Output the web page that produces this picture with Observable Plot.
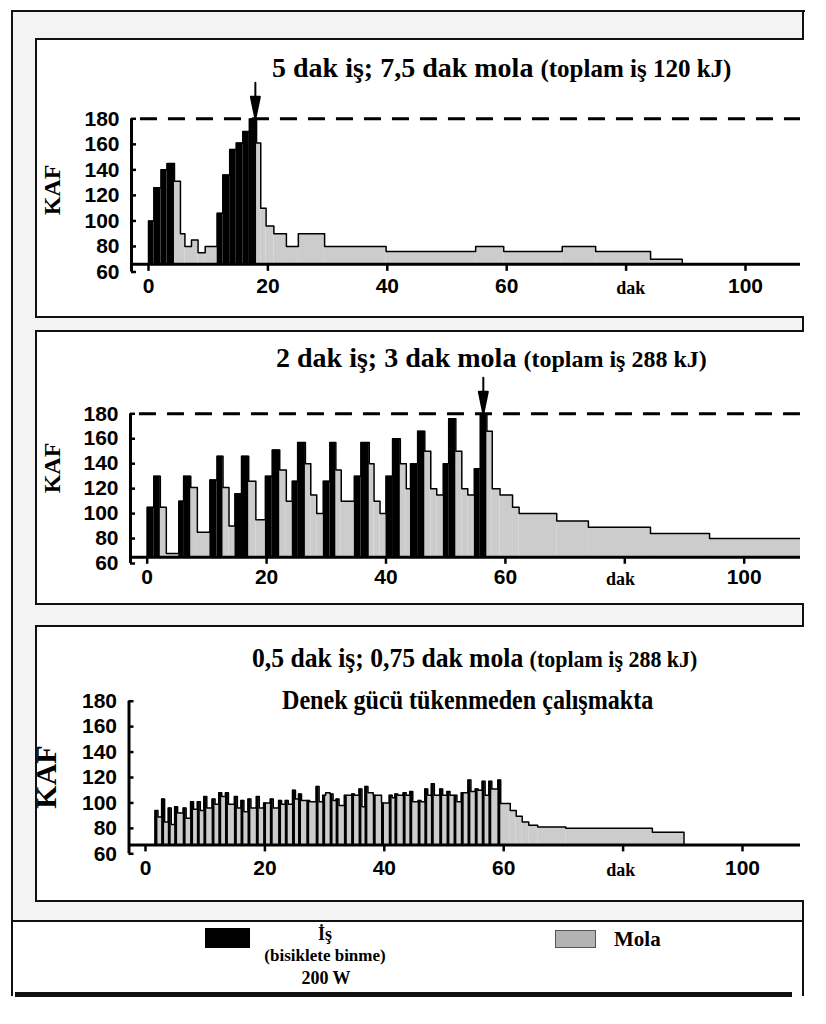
<!DOCTYPE html>
<html><head><meta charset="utf-8">
<script src="https://cdn.jsdelivr.net/npm/d3@7"></script>
<script src="https://cdn.jsdelivr.net/npm/@observablehq/plot@0.6"></script>
<style>
body{margin:0;background:#fff;}
#page{position:relative;width:826px;height:1024px;overflow:hidden;background:#fff;font-family:"Liberation Serif","Times New Roman",serif;color:#000;}
.bg{position:absolute;background:#f3f3f3;}
.line{position:absolute;background:#111;}
.box{position:absolute;background:#fff;border:2px solid #111;border-right:none;box-sizing:border-box;}
.t{position:absolute;font-weight:bold;white-space:nowrap;transform-origin:0 50%;line-height:1.15;}
.kaf{position:absolute;font-weight:bold;white-space:nowrap;transform:translate(-50%,-50%) rotate(-90deg);}
.svgwrap{position:absolute;left:0;}
</style></head>
<body><div id="page"></div>
<script>
// ---------------- DATA ----------------
const yTicks = [60, 80, 100, 120, 140, 160, 180];
const xTickMarks = [0, 20, 40, 60, 80, 100];
const xTickLabels = [0, 20, 40, 60, 100];
const xUnitLabel = "dak";
const yLabel = "KAF";
const limitHR = 180;

// Panel 1: 5 min work, 7.5 min rest
const p1Start = [0, 0.9, 2.1, 3.1, 4.35, 5.35, 6.1, 7.2, 8.3, 9.5, 11.5, 12.45, 13.6, 14.7, 15.8, 16.9, 18.1, 18.8, 19.7, 21.0, 23.1, 25.1, 29.5, 39.8, 54.8, 59.5, 69.3, 74.9, 84.1];
const p1HR    = [100, 126, 140, 145, 131, 90, 80, 85, 75, 80, 106, 136, 156, 161, 170, 180, 161, 110, 96, 90, 80, 90, 80, 76, 80, 76, 80, 76, 70];
const p1Work  = [1, 1, 1, 1, 0, 0, 0, 0, 0, 0, 1, 1, 1, 1, 1, 1, 0, 0, 0, 0, 0, 0, 0, 0, 0, 0, 0, 0, 0];
const p1End = 89.4;
const p1Exhaust = 17.9;

// Panel 2: 2 min work, 3 min rest
const p2Start = [0, 1.1, 2.2, 3.2, 5.3, 6.1, 7.3, 8.4, 10.5, 11.7, 12.7, 13.7, 14.7, 15.8, 17.0, 18.2, 19.8, 20.95, 22.2, 23.3, 24.3, 25.2, 26.5, 27.4, 28.4, 29.5, 30.6, 31.6, 32.5, 34.7, 35.8, 37.2, 38.0, 39.0, 40.0, 41.1, 42.4, 43.4, 44.1, 45.3, 46.5, 47.5, 48.5, 49.6, 50.5, 51.7, 52.7, 53.7, 54.8, 55.8, 56.9, 57.8, 59.1, 61.2, 62.3, 68.6, 73.9, 84.3, 94.2];
const p2HR    = [105, 130, 105, 68, 110, 130, 121, 85, 127, 146, 121, 90, 116, 146, 126, 95, 130, 151, 135, 110, 126, 157, 140, 115, 100, 126, 157, 135, 110, 130, 157, 140, 110, 100, 130, 160, 140, 120, 140, 166, 150, 120, 115, 140, 176, 150, 120, 115, 136, 180, 166, 120, 115, 105, 100, 94, 89, 84, 80];
const p2Work  = [1, 1, 0, 0, 1, 1, 0, 0, 1, 1, 0, 0, 1, 1, 0, 0, 1, 1, 0, 0, 1, 1, 0, 0, 0, 1, 1, 0, 0, 1, 1, 0, 0, 0, 1, 1, 0, 0, 1, 1, 0, 0, 0, 1, 1, 0, 0, 0, 1, 1, 0, 0, 0, 0, 0, 0, 0, 0, 0];
const p2End = 115;
const p2Exhaust = 56.3;

// Panel 3: 0.5 min work, 0.75 min rest (work bout centres, peak HR, HR in following rest)
const p3WorkTime = [1.84, 2.95, 4.06, 5.13, 6.56, 7.80, 8.93, 10.02, 11.40, 12.52, 13.64, 15.14, 16.24, 17.41, 18.81, 20.03, 21.15, 22.54, 23.66, 24.87, 25.88, 27.26, 28.83, 29.93, 31.17, 32.17, 33.56, 34.77, 36.01, 37.01, 38.40, 39.78, 41.07, 42.02, 43.41, 44.52, 45.91, 47.03, 48.13, 49.53, 50.75, 51.92, 53.14, 54.26, 55.48, 56.64, 57.76, 59.27];
const p3WorkHR = [94, 103, 96, 97, 96, 101, 101, 105, 103, 108, 108, 105, 102, 103, 105, 100, 103, 102, 102, 110, 107, 102, 113, 106, 107, 103, 106, 107, 111, 113, 106, 100, 106, 107, 108, 109, 102, 111, 115, 111, 109, 106, 108, 118, 111, 117, 117, 118];
const p3RestHR = [89, 85, 83, 92, 88, 95, 94, 96, 99, 105, 99, 96, 93, 96, 96, 100, 96, 99, 99, 103, 102, 101, 101, 108, 102, 98, 106, 106, 97, 108, 106, 100, 104, 106, 106, 101, 101, 106, 106, 106, 106, 101, 108, 109, 110, 106, 111];
const p3RecStart = [59.5, 61.1, 62.1, 63.1, 64.2, 65.7, 70.4, 84.9];
const p3RecHR    = [99.5, 94, 89.5, 85, 82.5, 81, 80, 77];
const p3End = 90.2;
const p3WorkLen = 0.5;

const titles = [
  ["5 dak iş; 7,5 dak mola ", "(toplam iş 120 kJ)"],
  ["2 dak iş; 3 dak mola ", "(toplam iş 288 kJ)"],
  ["0,5 dak iş; 0,75 dak mola ", "(toplam iş 288 kJ)"]
];
const subtitle3 = "Denek gücü tükenmeden çalışmakta";
const legendWork = ["İş", "(bisiklete binme)", "200 W"];
const legendRest = "Mola";

// ---------------- BUILD SEGMENTS ----------------
function segsFrom(start, hr, work, end) {
  return start.map((s, i) => ({x1: s, x2: i < start.length - 1 ? start[i + 1] : end, hr: hr[i], work: work[i]}));
}
const seg1 = segsFrom(p1Start, p1HR, p1Work, p1End);
const seg2 = segsFrom(p2Start, p2HR, p2Work, p2End);
const seg3 = [];
p3WorkTime.forEach((t, i) => {
  seg3.push({x1: t - p3WorkLen / 2, x2: t + p3WorkLen / 2, hr: p3WorkHR[i], work: 1});
  if (i < p3WorkTime.length - 1) seg3.push({x1: t + p3WorkLen / 2, x2: p3WorkTime[i + 1] - p3WorkLen / 2, hr: p3RestHR[i], work: 0});
});
p3RecStart.forEach((s, i) => seg3.push({x1: s, x2: i < p3RecStart.length - 1 ? p3RecStart[i + 1] : p3End, hr: p3RecHR[i], work: 0}));

// ---------------- LAYOUT ----------------
const page = document.getElementById("page");
function div(cls, css, html) {
  const d = document.createElement("div");
  d.className = cls;
  Object.assign(d.style, css);
  if (html != null) d.innerHTML = html;
  page.appendChild(d);
  return d;
}
// background + frames
div("bg", {left: "12px", top: "11px", width: "792px", height: "910px"});
div("line", {left: "11px", top: "10px", width: "794px", height: "2px"});
div("line", {left: "11px", top: "10px", width: "2px", height: "986px"});
div("line", {left: "802px", top: "10px", width: "2px", height: "986px"});
div("line", {left: "11px", top: "920px", width: "793px", height: "2px"});
div("line", {left: "15px", top: "992px", width: "777px", height: "5px"});

const panels = [
  {seg: seg1, top: 38, bottom: 318, y180: 118.3, y60: 271.5, zero: 148, axisX: 131, base: 66, exhaust: p1Exhaust, dash: true, dakX: 80.8},
  {seg: seg2, top: 330, bottom: 605, y180: 413.3, y60: 563, zero: 146.7, axisX: 130, base: 65, exhaust: p2Exhaust, dash: true, dakX: 79.3},
  {seg: seg3, top: 625, bottom: 902, y180: 700.7, y60: 853.3, zero: 145, axisX: 128.5, base: 67, exhaust: null, dash: false, dakX: 79.6}
];
const K = 5.97; // px per minute
const GREY = "#cccccc";

const arrowShape = {
  draw(ctx, l) {
    ctx.moveTo(0, 0);
    ctx.lineTo(0, -l + 18);
    ctx.moveTo(-4.5, -l + 22);
    ctx.lineTo(0, -l);
    ctx.lineTo(4.5, -l + 22);
    ctx.closePath();
  }
};

panels.forEach((p, idx) => {
  div("box", {left: "35px", top: p.top + "px", width: "769px", height: (p.bottom - p.top) + "px"});
  const H = p.bottom - p.top;
  const xmin = (p.axisX - p.zero) / K, xmax = (800 - p.zero) / K;
  const seg = p.seg;
  const outline = [{x: seg[0].x1, y: p.base}, ...seg.map(d => ({x: d.x1, y: d.hr})),
    {x: seg[seg.length - 1].x2, y: seg[seg.length - 1].hr}, {x: seg[seg.length - 1].x2, y: p.base}];
  const pxPerUnit = (p.y60 - p.y180) / 120;
  const marks = [
    Plot.rect(seg.filter(d => !d.work), {x1: "x1", x2: "x2", y1: p.base, y2: "hr", fill: GREY, clip: true}),
    Plot.rect(seg.filter(d => d.work), {x1: "x1", x2: "x2", y1: p.base, y2: "hr", fill: "#000", clip: true}),
    Plot.line(outline, {x: "x", y: "y", curve: "step-after", stroke: "#000", strokeWidth: 1.5, clip: true}),
    Plot.ruleY([p.base], {x1: xmin, x2: xmax, stroke: "#000", strokeWidth: 3}),
    Plot.ruleX([xmin], {y1: 60, y2: 180, stroke: "#000", strokeWidth: 3}),
    Plot.ruleY(yTicks, {x1: xmin, x2: xmin + 5 / K, stroke: "#000", strokeWidth: 2.5}),
    Plot.ruleX(xTickMarks, {y1: p.base, y2: p.base - 7 / pxPerUnit, stroke: "#000", strokeWidth: 2.5}),
    Plot.axisY(yTicks, {anchor: "left", tickSize: 0, tickPadding: 12, label: null, fontSize: 21, fontWeight: "bold", fontFamily: "Liberation Sans, Arial, sans-serif"}),
    Plot.axisX(xTickLabels, {anchor: "bottom", tickSize: 0, tickPadding: 6, label: null, fontSize: 21, fontWeight: "bold", fontFamily: "Liberation Sans, Arial, sans-serif"}),
    Plot.text([xUnitLabel], {x: p.dakX, y: 60, text: d => d, dy: 16, fontSize: 18, fontWeight: "bold", fontFamily: "Liberation Serif, serif"})
  ];
  if (p.dash) {
    marks.push(Plot.ruleY([limitHR], {x1: xmin + 1.5, x2: xmax, stroke: "#000", strokeWidth: 3, strokeDasharray: "17,11"}));
    marks.push(Plot.vector([{x: p.exhaust, y: limitHR}], {x: "x", y: "y", length: 36, rotate: 180, anchor: "end", shape: arrowShape, fill: "#000", stroke: "#000", strokeWidth: 2}));
  }
  const svg = Plot.plot({
    width: 826, height: H,
    marginLeft: p.axisX, marginRight: 26,
    marginTop: p.y180 - p.top, marginBottom: p.bottom - p.y60,
    x: {domain: [xmin, xmax]},
    y: {domain: [60, 180]},
    style: {background: "transparent", color: "#000", overflow: "visible"},
    marks
  });
  const w = document.createElement("div");
  w.className = "svgwrap";
  w.style.top = p.top + "px";
  w.appendChild(svg);
  page.appendChild(w);
});

// titles
div("t", {left: "272px", top: "52px", fontSize: "28px"}, titles[0][0] + '<span style="font-size:25px">' + titles[0][1] + '</span>');
div("t", {left: "276px", top: "342px", fontSize: "28px"}, titles[1][0] + '<span style="font-size:24px">' + titles[1][1] + '</span>');
div("t", {left: "252px", top: "642px", fontSize: "28px", transform: "scaleX(0.915)"}, titles[2][0] + '<span style="font-size:24px">' + titles[2][1] + '</span>');
div("t", {left: "282px", top: "684px", fontSize: "28px", transform: "scaleX(0.86)"}, subtitle3);
div("kaf", {left: "52px", top: "190px", fontSize: "24px"}, yLabel);
div("kaf", {left: "52px", top: "468px", fontSize: "24px"}, yLabel);
div("kaf", {left: "46px", top: "777px", fontSize: "30px"}, yLabel);

// legend
div("abs", {position: "absolute", left: "205px", top: "928px", width: "45px", height: "20px", background: "#000"});
div("t", {left: "325px", top: "924px", fontSize: "18px", transform: "translateX(-50%)"}, legendWork[0]);
div("t", {left: "325px", top: "946px", fontSize: "17px", transform: "translateX(-50%)"}, legendWork[1]);
div("t", {left: "326px", top: "968px", fontSize: "18px", transform: "translateX(-50%)"}, legendWork[2]);
div("abs", {position: "absolute", left: "555px", top: "930px", width: "41px", height: "18px", background: "#b3b3b3", border: "1px solid #555", boxSizing: "border-box"});
div("t", {left: "614px", top: "927px", fontSize: "21px"}, legendRest);
</script>
</body></html>
